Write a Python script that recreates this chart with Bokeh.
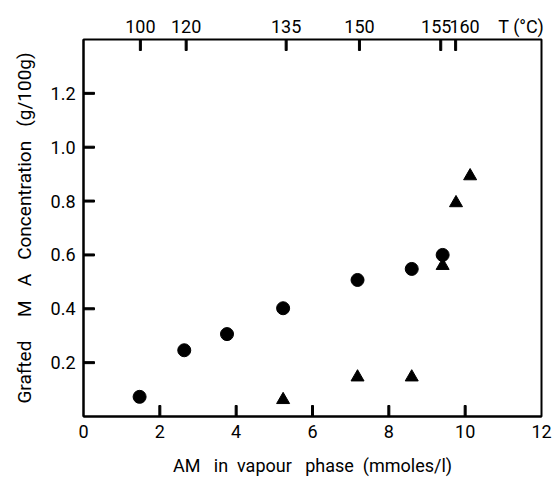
from bokeh.plotting import figure
from bokeh.models import LinearAxis, FixedTicker, Range1d
from bokeh.embed import file_html
from bokeh.resources import INLINE

# --- data ---
circle_x = [1.47, 2.64, 3.76, 5.23, 7.18, 8.60, 9.41]
circle_y = [0.073, 0.246, 0.306, 0.402, 0.507, 0.548, 0.600]
tri_x = [5.23, 7.18, 8.60, 9.41, 9.76, 10.13]
tri_y = [0.062, 0.146, 0.146, 0.560, 0.793, 0.893]

x_ticks = [0, 2, 4, 6, 8, 10, 12]
y_ticks = [0.2, 0.4, 0.6, 0.8, 1.0, 1.2]
y_tick_labels = ["0.2", "0.4", "0.6", "0.8", "1.0", "1.2"]
t_pos = [1.49, 2.69, 5.31, 7.23, 9.36, 9.75]
t_labels = ["100", "120", "135", "150", "155", "160"]
t_title = "T (°C)"
t_title_pos = 11.47

X_MIN, X_MAX, Y_MIN, Y_MAX = 0, 12, 0, 1.4

NB = "\u00a0"
x_title = "AM" + NB * 3 + "in" + NB * 2 + "vapour" + NB * 3 + "phase" + NB * 2 + "(mmoles/l)"
y_title = "Grafted" + NB * 5 + "M" + NB * 3 + "A" + NB * 3 + "Concentration" + NB * 3 + "(g/100g)"
# nudge the two crowded top labels apart (left pad / right pad in spaces)
t_pad = [(0, 0), (0, 0), (0, 0), (0, 0), (0, 2), (4, 0)]

FONT = "Roboto"
FS = "18px"
TICK_LEN_PX = 11
TICK_W_PX = 2
FRAME_W, FRAME_H = 458, 377
PX_X = (X_MAX - X_MIN) / FRAME_W
PX_Y = (Y_MAX - Y_MIN) / FRAME_H

p = figure(width=553, height=478, output_backend="svg", toolbar_location=None,
           x_range=Range1d(X_MIN, X_MAX), y_range=Range1d(Y_MIN, Y_MAX),
           min_border_left=83, min_border_right=12, min_border_top=39, min_border_bottom=62)
p.background_fill_color = "white"
p.border_fill_color = "white"
p.grid.visible = False
p.outline_line_color = "black"
p.outline_line_width = 2

bottom = p.below[0]
left = p.left[0]
top = LinearAxis(ticker=FixedTicker(ticks=t_pos + [t_title_pos]))
p.add_layout(top, "above")

for ax in (bottom, left, top):
    ax.major_tick_in = 0
    ax.major_tick_out = 0
    ax.minor_tick_line_color = None
    ax.major_tick_line_color = None
    ax.axis_line_width = 2
    ax.axis_line_color = "black"
    ax.major_label_text_font = FONT
    ax.major_label_text_font_size = FS
    ax.major_label_text_color = "black"
    ax.axis_label_text_font = FONT
    ax.axis_label_text_font_size = FS
    ax.axis_label_text_font_style = "normal"
    ax.axis_label_text_color = "black"
    ax.major_label_standoff = 8

top.axis_line_color = None
top.major_label_standoff = 3
overrides = {t: NB * a + s + NB * b for t, s, (a, b) in zip(t_pos, t_labels, t_pad)}
overrides[t_title_pos] = t_title
top.major_label_overrides = overrides

bottom.ticker = FixedTicker(ticks=x_ticks)
left.ticker = FixedTicker(ticks=y_ticks)
left.major_label_overrides = {t: s for t, s in zip(y_ticks, y_tick_labels)}
bottom.axis_label = x_title
bottom.axis_label_standoff = 14
left.axis_label = y_title
left.axis_label_standoff = 12
left.axis_label_text_font_size = "19px"

# inward tick marks as small filled quads inside the frame
hw = TICK_W_PX / 2
q = dict(fill_color="black", line_color="black", line_width=1)
p.quad(left=[t - hw * PX_X for t in t_pos], right=[t + hw * PX_X for t in t_pos],
       top=[Y_MAX] * len(t_pos), bottom=[Y_MAX - TICK_LEN_PX * PX_Y] * len(t_pos), **q)
inner_x = x_ticks[1:-1]
p.quad(left=[t - hw * PX_X for t in inner_x], right=[t + hw * PX_X for t in inner_x],
       top=[Y_MIN + TICK_LEN_PX * PX_Y] * len(inner_x), bottom=[Y_MIN] * len(inner_x), **q)
p.quad(left=[X_MIN] * len(y_ticks), right=[X_MIN + TICK_LEN_PX * PX_X] * len(y_ticks),
       top=[t + hw * PX_Y for t in y_ticks], bottom=[t - hw * PX_Y for t in y_ticks], **q)

p.scatter(circle_x, circle_y, marker="circle", size=13, color="black")
p.scatter(tri_x, tri_y, marker="triangle", size=13, color="black")

open("out.html", "w").write(file_html(p, INLINE))
